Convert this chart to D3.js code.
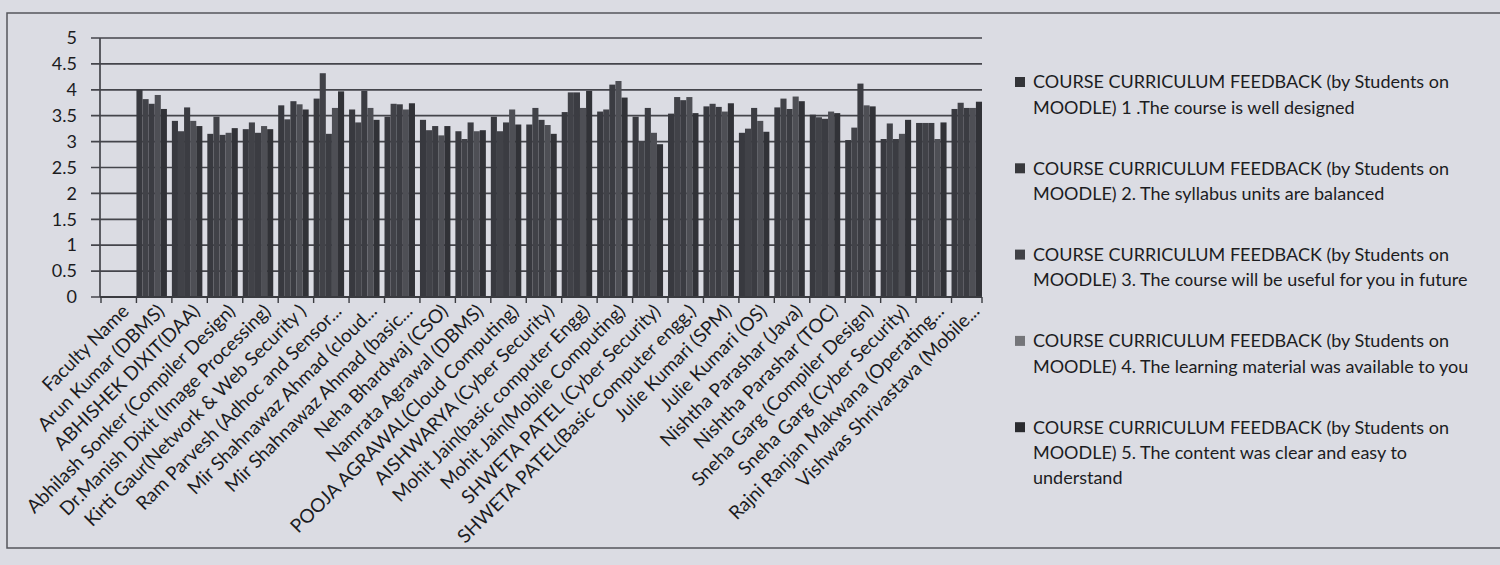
<!DOCTYPE html>
<html>
<head>
<meta charset="utf-8">
<script src="https://cdn.jsdelivr.net/npm/d3@7"></script>
<style>
  body { margin: 0; background: #dbdce3; }
  svg { display: block; }
  text { font-family: Lato, "Open Sans", sans-serif; fill: #1c1c1f; }
</style>
</head>
<body>
<svg id="chart"></svg>
<script>
// faculty / course names on the x axis
const categories = [
  'Faculty Name', 'Arun Kumar (DBMS)', 'ABHISHEK DIXIT(DAA)', 'Abhilash Sonker (Compiler Design)',
  'Dr.Manish Dixit (Image Processing)', 'Kirti Gaur(Network & Web Security )', 'Ram Parvesh (Adhoc and Sensor...',
  'Mir Shahnawaz Ahmad (cloud...', 'Mir Shahnawaz Ahmad (basic...', 'Neha Bhardwaj (CSO)', 'Namrata Agrawal (DBMS)',
  'POOJA AGRAWAL(Cloud Computing)', 'AISHWARYA (Cyber Security)', 'Mohit Jain(basic computer Engg)',
  'Mohit Jain(Mobile Computing)', 'SHWETA PATEL (Cyber Security)', 'SHWETA PATEL(Basic Computer engg.)',
  'Julie Kumari (SPM)', 'Julie Kumari (OS)', 'Nishtha Parashar (Java)', 'Nishtha Parashar (TOC)',
  'Sneha Garg (Compiler Design)', 'Sneha Garg (Cyber Security)', 'Rajni Ranjan Makwana (Operating...',
  'Vishwas Shrivastava (Mobile...'
];

// one array per feedback question
const q1 = [0, 4.0, 3.4, 3.15, 3.24, 3.7, 3.83, 3.62, 3.48, 3.42, 3.2, 3.48, 3.33, 3.57, 3.58, 3.48, 3.54, 3.68, 3.17, 3.66, 3.52, 3.03, 3.05, 3.36, 3.63];
const q2 = [0, 3.82, 3.2, 3.48, 3.37, 3.43, 4.32, 3.37, 3.73, 3.22, 3.05, 3.2, 3.65, 3.95, 3.62, 3.0, 3.86, 3.73, 3.25, 3.83, 3.47, 3.27, 3.35, 3.36, 3.75];
const q3 = [0, 3.73, 3.66, 3.13, 3.17, 3.78, 3.15, 3.98, 3.72, 3.3, 3.37, 3.37, 3.42, 3.95, 4.1, 3.65, 3.8, 3.67, 3.65, 3.63, 3.44, 4.12, 3.05, 3.36, 3.65];
const q4 = [0, 3.9, 3.4, 3.17, 3.3, 3.72, 3.65, 3.65, 3.62, 3.12, 3.2, 3.62, 3.32, 3.65, 4.17, 3.17, 3.86, 3.58, 3.4, 3.87, 3.58, 3.7, 3.15, 3.05, 3.65];
const q5 = [0, 3.63, 3.3, 3.26, 3.24, 3.62, 3.97, 3.42, 3.74, 3.3, 3.22, 3.33, 3.15, 3.98, 3.85, 2.95, 3.55, 3.74, 3.19, 3.78, 3.55, 3.68, 3.42, 3.37, 3.77];

const seriesNames = [
  'COURSE CURRICULUM FEEDBACK (by Students on\nMOODLE) 1 .The course is well designed',
  'COURSE CURRICULUM FEEDBACK (by Students on\nMOODLE) 2. The syllabus units are balanced',
  'COURSE CURRICULUM FEEDBACK (by Students on\nMOODLE) 3. The course will be useful for you in future',
  'COURSE CURRICULUM FEEDBACK (by Students on\nMOODLE) 4. The learning material was available to you',
  'COURSE CURRICULUM FEEDBACK (by Students on\nMOODLE) 5. The content was clear and easy to\nunderstand'
];

const yTicks = [0, 0.5, 1, 1.5, 2, 2.5, 3, 3.5, 4, 4.5, 5];

let chart = {
  width: 1500,
  height: 565,
  plot: {left: 101, right: 982, top: 38, bottom: 297, axisX: 100},
  barColors: ['#38393f', '#414248', '#3b3c42', '#4e4f55', '#313237'],
  legendColors: ['#333438', '#38393d', '#404146', '#747579', '#2a2b2f'],
  x0: null, x1: null, y: null,

  drawFrame: (svg) => {
    svg.append('rect')
      .attr('x', 7).attr('y', 13)
      .attr('width', 1520).attr('height', 535)
      .attr('fill', 'none')
      .attr('stroke', '#55565c')
      .attr('stroke-width', 1.5);
  },

  drawAxis: (svg) => {
    let p = chart.plot;
    chart.x0 = d3.scaleBand()
      .domain(categories)
      .range([p.left, p.right])
      .paddingInner(0.14)
      .paddingOuter(0)
      .align(0);
    chart.x1 = d3.scaleBand()
      .domain(d3.range(5))
      .range([0, chart.x0.bandwidth()]);
    chart.y = d3.scaleLinear()
      .domain([0, 5])
      .range([p.bottom, p.top]);

    // gridlines (they also stick out left of the axis like excel's outside ticks)
    svg.append('g')
      .selectAll('line')
      .data(yTicks)
      .join('line')
      .attr('x1', p.axisX - 9)
      .attr('x2', p.right)
      .attr('y1', d => chart.y(d))
      .attr('y2', d => chart.y(d))
      .attr('stroke', '#44454b')
      .attr('stroke-width', 1.7);

    // y tick labels
    let axisY = d3.axisLeft(chart.y)
      .tickValues(yTicks)
      .tickSize(0)
      .tickPadding(0)
      .tickFormat(d => d);
    svg.append('g')
      .attr('transform', `translate(${p.axisX - 23}, 0)`)
      .call(axisY)
      .call(g => g.select('.domain').remove())
      .selectAll('text')
      .attr('font-size', 18)
      .attr('font-family', 'Lato, sans-serif')
      .attr('fill', '#1c1c1f');

    svg.append('line')
      .attr('x1', p.axisX).attr('x2', p.axisX)
      .attr('y1', p.top).attr('y2', p.bottom)
      .attr('stroke', '#44454b')
      .attr('stroke-width', 1.7);
  },

  drawBars: (svg) => {
    let series = [q1, q2, q3, q4, q5];
    let g = svg.append('g');
    series.forEach((vals, si) => {
      g.append('g')
        .attr('fill', chart.barColors[si])
        .selectAll('rect')
        .data(vals)
        .join('rect')
        .attr('x', (d, i) => chart.x0(categories[i]) + chart.x1(si))
        .attr('y', d => chart.y(d))
        .attr('width', chart.x1.bandwidth())
        .attr('height', d => chart.y(0) - chart.y(d));
    });
  },

  drawXAxis: (svg) => {
    let p = chart.plot;
    let step = chart.x0.step();
    // tick marks on category boundaries
    let bounds = categories.map(c => chart.x0(c)).concat([p.right]);
    svg.append('line')
      .attr('x1', p.axisX).attr('x2', p.right)
      .attr('y1', p.bottom).attr('y2', p.bottom)
      .attr('stroke', '#3a3b40')
      .attr('stroke-width', 1.8);
    svg.append('g')
      .selectAll('line')
      .data(bounds)
      .join('line')
      .attr('x1', d => d).attr('x2', d => d)
      .attr('y1', p.bottom).attr('y2', p.bottom + 6)
      .attr('stroke', '#3a3b40')
      .attr('stroke-width', 1.4);

    // rotated labels, ending under the middle of each group
    svg.append('g')
      .selectAll('text')
      .data(categories)
      .join('text')
      .attr('transform', d => `translate(${chart.x0(d) + step / 2 + 2}, ${p.bottom + 6}) rotate(-45)`)
      .attr('text-anchor', 'end')
      .attr('dy', '0.7em')
      .attr('font-size', 19)
      .text(d => d);
  },

  drawLegend: (svg) => {
    let lg = svg.append('g').attr('transform', 'translate(1015, 82)');
    seriesNames.forEach((name, i) => {
      let item = lg.append('g').attr('transform', `translate(0, ${i * 86.3})`);
      item.append('rect')
        .attr('x', 0).attr('y', -5)
        .attr('width', 10).attr('height', 10)
        .attr('fill', chart.legendColors[i]);
      item.append('text')
        .attr('font-size', 18)
        .selectAll('tspan')
        .data(name.split('\n'))
        .join('tspan')
        .attr('x', 18)
        .attr('y', (d, j) => j * 25.5)
        .attr('dy', '0.35em')
        .text(d => d);
    });
  },

  drawMain: () => {
    let svg = d3.select('#chart')
      .attr('width', chart.width)
      .attr('height', chart.height);
    chart.drawFrame(svg);
    chart.drawAxis(svg);
    chart.drawBars(svg);
    chart.drawXAxis(svg);
    chart.drawLegend(svg);
  }
};

chart.drawMain();
</script>
</body>
</html>
